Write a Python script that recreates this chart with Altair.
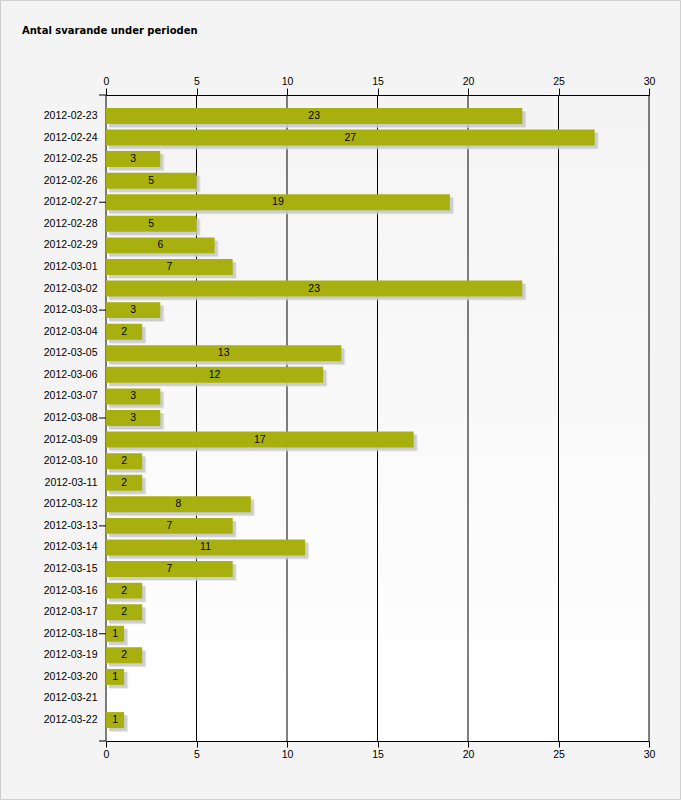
import altair as alt
import pandas as pd

dates = ["2012-02-23", "2012-02-24", "2012-02-25", "2012-02-26", "2012-02-27",
         "2012-02-28", "2012-02-29", "2012-03-01", "2012-03-02", "2012-03-03",
         "2012-03-04", "2012-03-05", "2012-03-06", "2012-03-07", "2012-03-08",
         "2012-03-09", "2012-03-10", "2012-03-11", "2012-03-12", "2012-03-13",
         "2012-03-14", "2012-03-15", "2012-03-16", "2012-03-17", "2012-03-18",
         "2012-03-19", "2012-03-20", "2012-03-21", "2012-03-22"]
counts = [23, 27, 3, 5, 19, 5, 6, 7, 23, 3, 2, 13, 12, 3, 3, 17, 2, 2, 8, 7,
          11, 7, 2, 2, 1, 2, 1, 0, 1]
x_ticks = [0, 5, 10, 15, 20, 25, 30]
y_tick_dates = ["2012-02-27", "2012-03-03", "2012-03-08", "2012-03-13", "2012-03-18"]
title_text = "Antal svarande under perioden"

W, H = 543, 646
PAD = {"left": 106, "top": 95, "right": 32, "bottom": 59}
FONT = "Liberation Sans"
FS = 10.5
BAR = "#a8b00f"

df = pd.DataFrame({"date": dates, "count": counts})
base = alt.Chart(df)

xscale = alt.Scale(domain=[0, 30], nice=False, zero=True)
yscale = alt.Scale(domain=dates, paddingInner=0.26, paddingOuter=0.6)

yaxis = alt.Axis(title=None, ticks=False, domain=False,
                 labelPadding=9, labelFont=FONT, labelFontSize=FS,
                 labelColor="black", grid=False, zindex=1)
yenc = alt.Y("date:N", scale=yscale, sort=dates, axis=yaxis)


def xq(field):
    return alt.X(field, scale=xscale, axis=None)


def xaxis(orient, tick):
    return alt.Axis(orient=orient, values=x_ticks, title=None, grid=False,
                    domainColor="black", tickColor="black", tickSize=tick,
                    labelFont=FONT, labelFontSize=FS, labelColor="black",
                    labelPadding=2, labelFlush=False, format="d", zindex=1)


one = alt.Data(values=[{"a": 1}])

# plot-area gradient background
bg = alt.Chart(one).mark_rect(
    color=alt.LinearGradient(gradient="linear", x1=0, y1=0, x2=0, y2=1,
                             stops=[alt.GradientStop(offset=0, color="#f4f4f4"),
                                    alt.GradientStop(offset=1, color="#ffffff")])
).encode(x=alt.value(0), x2=alt.value(W), y=alt.value(0), y2=alt.value(H))

bottom_axis = base.mark_bar(opacity=0).encode(
    x=alt.X("count:Q", scale=xscale, axis=xaxis("bottom", 6)), y=yenc)
top_axis = base.mark_bar(opacity=0).encode(
    x=alt.X("count:Q", scale=xscale, axis=xaxis("top", 7)), y=yenc)

grid_df = pd.DataFrame({"v": x_ticks})
grid = alt.Chart(grid_df).mark_rule(color="black", strokeWidth=1).encode(
    x=xq("v:Q"), y=alt.value(0), y2=alt.value(H))

shadow2 = base.mark_bar(color="#dcdcdc", opacity=0.6, xOffset=4, yOffset=4).encode(
    x=xq("count:Q"), y=yenc)
shadow = base.mark_bar(color="#c4c4c4", opacity=0.75, xOffset=3, yOffset=3).encode(
    x=xq("count:Q"), y=yenc)

bars = base.mark_bar(color=BAR).encode(x=xq("count:Q"), y=yenc)

labels = base.transform_filter("datum.count > 0").transform_calculate(
    mid="datum.count / 2"
).mark_text(font=FONT, fontSize=FS, color="black", align="center",
            baseline="middle").encode(
    x=xq("mid:Q"),
    y=yenc,
    text=alt.Text("count:Q"),
)

ytick_df = pd.DataFrame({"date": y_tick_dates})
yticks = alt.Chart(ytick_df).mark_rule(color="black", strokeWidth=1).encode(
    y=yenc, x=alt.value(-7), x2=alt.value(0))

ext_top = alt.Chart(one).mark_rule(color="black").encode(
    x=alt.value(-7), x2=alt.value(0), y=alt.value(0))
ext_bot = alt.Chart(one).mark_rule(color="black").encode(
    x=alt.value(-7), x2=alt.value(0), y=alt.value(H))

border = alt.Chart(one).mark_rect(filled=False, color="#cfcfcf", strokeWidth=1).encode(
    x=alt.value(-PAD["left"] + 0.5), x2=alt.value(W + PAD["right"] - 0.5),
    y=alt.value(-PAD["top"] + 0.5), y2=alt.value(H + PAD["bottom"] - 0.5),
)

title = alt.Chart(alt.Data(values=[{"t": title_text}])).mark_text(
    font="DejaVu Sans", fontSize=10, fontWeight="bold", color="black",
    align="left", baseline="alphabetic").encode(
    x=alt.value(22 - PAD["left"]), y=alt.value(34 - PAD["top"]), text="t:N")

chart = alt.layer(
    bg, bottom_axis, top_axis, grid, shadow2, shadow, bars, labels, yticks,
    ext_top, ext_bot, border, title
).properties(
    width=W, height=H,
    autosize=alt.AutoSizeParams(type="none"),
    padding=PAD,
    background="#f4f4f4",
).configure_view(stroke=None)

chart.save("out.html", embed_options={"renderer": "svg", "actions": False})
